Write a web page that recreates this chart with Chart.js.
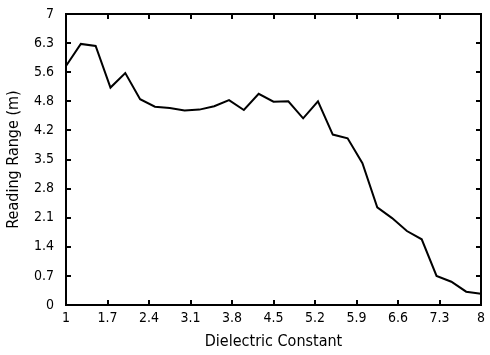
<!DOCTYPE html>
<html>
<head>
<meta charset="utf-8">
<script src="https://cdn.jsdelivr.net/npm/chart.js@4"></script>
<style>
  body { margin: 0; background: #fff; }
  #grafico { display: block; }
</style>
</head>
<body>
<canvas id="grafico" width="490" height="355"></canvas>
<script>
// dados
const constanteDieletrica = [1, 1.25, 1.5, 1.75, 2, 2.25, 2.5, 2.75, 3, 3.25, 3.5, 3.75, 4, 4.25, 4.5,
  4.75, 5, 5.25, 5.5, 5.75, 6, 6.25, 6.5, 6.75, 7, 7.25, 7.5, 7.75, 8];
const alcanceLeitura = [5.75, 6.28, 6.23, 5.23, 5.58, 4.95, 4.77, 4.74, 4.68, 4.70, 4.78, 4.93, 4.69, 5.08, 4.89,
  4.90, 4.49, 4.90, 4.10, 4.01, 3.41, 2.35, 2.09, 1.78, 1.58, 0.70, 0.56, 0.32, 0.27];
const ticksX = ['1', '1.7', '2.4', '3.1', '3.8', '4.5', '5.2', '5.9', '6.6', '7.3', '8'];
const ticksY = ['0', '0.7', '1.4', '2.1', '2.8', '3.5', '4.2', '4.8', '5.6', '6.3', '7'];
// posições dos ticks do eixo y (os rótulos acima vêm do original)
const valoresTicksY = [0, 0.7, 1.4, 2.1, 2.8, 3.5, 4.2, 4.9, 5.6, 6.3, 7];

const fonteTicks = { family: 'DejaVu Sans Condensed', size: 14 };
const fonteTitulo = { family: 'DejaVu Sans Condensed', size: 16 };

// desenha a moldura e os ticks virados para dentro
const molduraPlugin = {
  id: 'moldura',
  afterDraw(chart) {
    const ctx = chart.ctx;
    const a = chart.chartArea;
    const sx = chart.scales.x, sy = chart.scales.y;
    const t = 5;
    ctx.save();
    ctx.strokeStyle = '#000';
    ctx.lineWidth = 2;
    ctx.beginPath();
    ticksX.forEach(v => {
      const px = Math.round(sx.getPixelForValue(Number(v)));
      ctx.moveTo(px, a.bottom); ctx.lineTo(px, a.bottom - t);
      ctx.moveTo(px, a.top); ctx.lineTo(px, a.top + t);
    });
    valoresTicksY.forEach(v => {
      const py = Math.round(sy.getPixelForValue(v));
      ctx.moveTo(a.left, py); ctx.lineTo(a.left + t, py);
      ctx.moveTo(a.right, py); ctx.lineTo(a.right - t, py);
    });
    ctx.stroke();
    ctx.strokeRect(a.left, a.top, a.right - a.left, a.bottom - a.top);
    ctx.restore();
  }
};

new Chart(document.getElementById('grafico'), {
  type: 'line',
  data: {
    datasets: [{
      data: constanteDieletrica.map((x, i) => ({ x: x, y: alcanceLeitura[i] })),
      borderColor: '#000',
      borderWidth: 2,
      pointRadius: 0,
      tension: 0,
      fill: false
    }]
  },
  options: {
    responsive: false,
    animation: false,
    layout: { padding: { top: 14, right: 9, left: 0, bottom: 0 } },
    plugins: { legend: { display: false }, tooltip: { enabled: false } },
    scales: {
      x: {
        type: 'linear',
        min: 1, max: 8,
        afterBuildTicks: s => { s.ticks = ticksX.map(v => ({ value: Number(v) })); },
        afterFit: s => { s.height = 50; s.paddingLeft = 0; s.paddingRight = 0; },
        grid: { display: false, drawTicks: false },
        border: { display: false },
        ticks: {
          color: '#000', font: fonteTicks, padding: 5, maxRotation: 0, autoSkip: false,
          callback: (v, i) => ticksX[i]
        },
        title: { display: true, text: 'Dielectric Constant', color: '#000', font: fonteTitulo, padding: { top: 2, bottom: 4 } }
      },
      y: {
        type: 'linear',
        min: 0, max: 7,
        afterBuildTicks: s => { s.ticks = valoresTicksY.map(v => ({ value: v })); },
        afterFit: s => { s.width = 66; s.paddingTop = 0; s.paddingBottom = 0; },
        grid: { display: false, drawTicks: false },
        border: { display: false },
        ticks: {
          color: '#000', font: fonteTicks, padding: 12, autoSkip: false,
          callback: (v, i) => ticksY[i]
        },
        title: { display: true, text: 'Reading Range (m)', color: '#000', font: fonteTitulo, padding: { top: 4, bottom: 0 } }
      }
    }
  },
  plugins: [molduraPlugin]
});
</script>
</body>
</html>
